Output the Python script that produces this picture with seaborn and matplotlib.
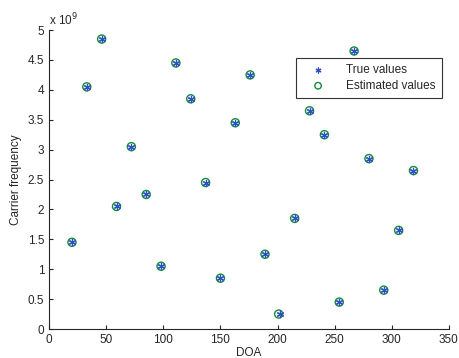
import seaborn as sns
import matplotlib.pyplot as plt
import pandas as pd
from matplotlib.ticker import FuncFormatter, MultipleLocator

# DOA (grados) y frecuencia portadora (Hz)
doa_true = [20, 33, 46, 59, 72, 85, 98, 111, 124, 137, 150, 163,
            176, 189, 202, 215, 228, 241, 254, 267, 280, 293, 306, 319]
freq_true = [1.45e9, 4.05e9, 4.85e9, 2.05e9, 3.05e9, 2.25e9, 1.05e9, 4.45e9,
             3.85e9, 2.45e9, 0.85e9, 3.45e9, 4.25e9, 1.25e9, 0.25e9, 1.85e9,
             3.65e9, 3.25e9, 0.45e9, 4.65e9, 2.85e9, 0.65e9, 1.65e9, 2.65e9]
doa_est = [20, 33, 46, 59, 72, 85, 98, 111, 124, 137, 150, 163,
           176, 189, 201, 215, 228, 241, 254, 267, 280, 293, 306, 319]
freq_est = freq_true

verdaderos = pd.DataFrame({'doa': doa_true, 'freq': freq_true})
estimados = pd.DataFrame({'doa': doa_est, 'freq': freq_est})

sns.set_style('ticks')
plt.rcParams['font.family'] = ['Liberation Sans', 'DejaVu Sans']
plt.rcParams['font.size'] = 8.5

fig = plt.figure(figsize=(4.59, 3.58), dpi=100)
ax = fig.add_axes([0.107, 0.081, 0.871, 0.835])

sns.scatterplot(data=verdaderos, x='doa', y='freq', ax=ax, marker=(6, 2, 0),
                s=20, color='#2f4fc4', edgecolor='#2f4fc4', linewidth=0.9,
                label='True values', zorder=3)
sns.scatterplot(data=estimados, x='doa', y='freq', ax=ax, marker='o',
                s=34, facecolor='none', edgecolor='#118a3c', linewidth=1.0,
                label='Estimated values', zorder=2)

ax.set_xlim(0, 350)
ax.set_ylim(0, 5e9)
ax.xaxis.set_major_locator(MultipleLocator(50))
ax.yaxis.set_major_locator(MultipleLocator(0.5e9))
ax.yaxis.set_major_formatter(FuncFormatter(lambda v, p: f'{v / 1e9:g}'))
ax.tick_params(direction='in', length=3, width=0.8, labelsize=8.5, colors='#262626')
for lado in ['top', 'right']:
    ax.spines[lado].set_visible(False)
for lado in ['left', 'bottom']:
    ax.spines[lado].set_color('#262626')
    ax.spines[lado].set_linewidth(0.8)

ax.set_xlabel('DOA', fontsize=8.5, labelpad=0.5)
ax.set_ylabel('Carrier frequency', fontsize=8.5, labelpad=4)
ax.text(0.0, 1.005, r'x 10$^{9}$', transform=ax.transAxes, fontsize=8.5,
        ha='left', va='bottom')

leg = ax.legend(loc='upper right', bbox_to_anchor=(0.997, 0.927), fontsize=8.5,
                frameon=True, fancybox=False, edgecolor='black',
                borderpad=0.55, handlelength=2.7, handletextpad=1.0,
                labelspacing=0.3, markerscale=0.8)
leg.get_frame().set_linewidth(0.8)

plt.savefig('out.png', dpi=100)
